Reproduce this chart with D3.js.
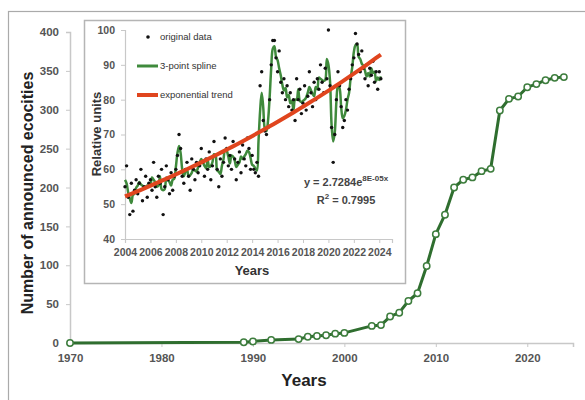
<!DOCTYPE html>
<html>
<head>
<meta charset="utf-8">
<script src="https://cdn.jsdelivr.net/npm/d3@7"></script>
<style>
body{margin:0;background:#fff;}
text{font-family:"Liberation Sans",Arial,sans-serif;}
.tick text{font-family:"Liberation Sans Narrow","Arial Narrow","Liberation Sans",sans-serif;font-weight:bold;fill:#555;}
</style>
</head>
<body>
<div id="chart"></div>
<script>
// main series: announced ecocities
var years=[1970,1989,1990,1992,1995,1996,1997,1998,1999,2000,2003,2004,2005,2006,2007,2008,2009,2010,2011,2012,2013,2014,2015,2016,2017,2018,2019,2020,2021,2022,2023,2024];
var counts=[0,1,2,4,5,8,9,10,12,13,22,23,34,39,54,64,99,140,165,200,210,213,221,224,299,314,317,329,333,338,341,342];
var mainXTicks=[1970,1980,1990,2000,2010,2020];
var mainYTicks=[0,50,100,150,200,250,300,350,400];

// inset: relative units, 8 readings per year from 2004
var insetStart=2004;
var perYear=8;
var relUnits=[
  55,61,52,47,56,48,54,57,
  53,56,60,51,55,58,52,56,
  57,54,62,55,52,58,56,60,
  47,55,61,57,53,59,54,58,
  60,64,70,66,58,56,60,62,
  58,54,63,60,57,62,59,61,
  66,62,58,63,60,65,57,61,
  68,64,60,55,63,58,62,69,
  66,61,64,60,68,63,57,62,
  65,59,67,63,61,69,66,60,
  64,60,59,62,58,84,88,74,
  71,70,72,80,90,97,97,92,
  88,94,85,82,86,80,84,78,
  82,77,80,74,86,80,83,76,
  79,84,77,81,88,82,78,85,
  80,86,83,90,85,82,89,86,
  100,84,72,62,70,80,88,84,
  78,72,74,80,77,83,86,90,
  92,99,96,93,88,94,89,86,
  90,84,89,87,91,85,88,83,
  88,86
];
var insetXTicks=[2004,2006,2008,2010,2012,2014,2016,2018,2020,2022,2024];
var insetYTicks=[40,50,60,70,80,90,100];

var W=585,H=400;
var svg=d3.select("#chart").append("svg").attr("width",W).attr("height",H);

svg.append("rect").attr("x",8.5).attr("y",11.5).attr("width",W).attr("height",H)
   .attr("fill","none").attr("stroke","#aaa").attr("stroke-width",1.2);

// ---- main chart
var x=d3.scaleLinear().domain([1970,2025]).range([70,573]);
var y=d3.scaleLinear().domain([0,400]).range([343,32]);

var gx=svg.append("g").attr("transform","translate(0,343)")
  .call(d3.axisBottom(x).tickValues(mainXTicks).tickFormat(d3.format("d")).tickSize(4).tickPadding(7));
var gy=svg.append("g").attr("transform","translate(70,0)")
  .call(d3.axisLeft(y).tickValues(mainYTicks).tickSize(4).tickPadding(7));
[gx,gy].forEach(function(g){
  g.select(".domain").attr("stroke","#c8c8c8").attr("stroke-width",1.5);
  g.selectAll(".tick line").attr("stroke","#c8c8c8");
  g.selectAll(".tick text").attr("font-size",11.5);
});

var mainData=years.map(function(d,i){return {year:d,v:counts[i]};});
var line=d3.line().x(function(d){return x(d.year);}).y(function(d){return y(d.v);});
svg.append("path").datum(mainData).attr("d",line)
   .attr("fill","none").attr("stroke","#2f6e2f").attr("stroke-width",3).attr("stroke-linejoin","round");
svg.selectAll("circle.m").data(mainData).enter().append("circle").attr("class","m")
   .attr("cx",function(d){return x(d.year);}).attr("cy",function(d){return y(d.v);})
   .attr("r",3.2).attr("fill","#fff").attr("stroke","#3d7d3d").attr("stroke-width",1.5);

svg.append("text").attr("x",304).attr("y",386).attr("text-anchor","middle")
   .attr("font-size",17).attr("font-weight","bold").attr("fill","#222").text("Years");
svg.append("text").attr("transform","translate(33,193) rotate(-90)").attr("text-anchor","middle")
   .attr("font-size",16).attr("font-weight","bold").attr("fill","#222").text("Number of announced ecocities");

// ---- inset
svg.append("rect").attr("x",84.5).attr("y",20.5).attr("width",321).attr("height",263)
   .attr("fill","#fff").attr("stroke","#b5b5b5").attr("stroke-width",1.5);

var ix=d3.scaleLinear().domain([2004,2025]).range([125,392]);
var iy=d3.scaleLinear().domain([40,100]).range([239,30]);

var igx=svg.append("g").attr("transform","translate(0,239)")
  .call(d3.axisBottom(ix).tickValues(insetXTicks).tickFormat(d3.format("d")).tickSize(4).tickPadding(6));
var igy=svg.append("g").attr("transform","translate(125,0)")
  .call(d3.axisLeft(iy).tickValues(insetYTicks).tickSize(4).tickPadding(6));
[igx,igy].forEach(function(g){
  g.select(".domain").attr("stroke","#c8c8c8").attr("stroke-width",1.2);
  g.selectAll(".tick line").attr("stroke","#c8c8c8");
  g.selectAll(".tick text").attr("font-size",10.5).attr("fill","#333");
});

var pts=relUnits.map(function(v,i){return {t:insetStart+i/perYear,v:v};});
// 3-point smoothing of the readings
var smooth=pts.map(function(d,i){
  var a=pts[Math.max(0,i-1)].v,b=d.v,c=pts[Math.min(pts.length-1,i+1)].v;
  return {t:d.t,v:(a+b+c)/3};
});
// exponential fit  v = a*exp(b*t)
var n=pts.length,sx=0,sy=0,sxx=0,sxy=0;
pts.forEach(function(d){var t=d.t-2004,l=Math.log(d.v);sx+=t;sy+=l;sxx+=t*t;sxy+=t*l;});
var fb=(n*sxy-sx*sy)/(n*sxx-sx*sx), fa=Math.exp((sy-fb*sx)/n);
var trend=d3.range(0,51).map(function(i){var t=pts[n-1].t*i/50+2004*(1-i/50);return {t:t,v:fa*Math.exp(fb*(t-2004))};});

var iline=d3.line().x(function(d){return ix(d.t);}).y(function(d){return iy(d.v);});
svg.append("path").datum(smooth).attr("d",iline.curve(d3.curveCatmullRom))
   .attr("fill","none").attr("stroke","#3f8a3c").attr("stroke-width",2.5);
svg.selectAll("circle.p").data(pts).enter().append("circle").attr("class","p")
   .attr("cx",function(d){return ix(d.t);}).attr("cy",function(d){return iy(d.v);})
   .attr("r",1.7).attr("fill","#111");
svg.append("path").datum(trend).attr("d",d3.line().x(function(d){return ix(d.t);}).y(function(d){return iy(d.v);}))
   .attr("fill","none").attr("stroke","#e0451e").attr("stroke-width",4);

// legend
svg.append("circle").attr("cx",148).attr("cy",37).attr("r",1.8).attr("fill","#111");
svg.append("line").attr("x1",137).attr("x2",158).attr("y1",66).attr("y2",66).attr("stroke","#3f8a3c").attr("stroke-width",3);
svg.append("line").attr("x1",137).attr("x2",158).attr("y1",95).attr("y2",95).attr("stroke","#e0451e").attr("stroke-width",4);
var legTxt=["original data","3-point spline","exponential trend"];
svg.selectAll("text.leg").data(legTxt).enter().append("text").attr("class","leg")
   .attr("x",160).attr("y",function(d,i){return 40+i*29;})
   .attr("font-size",9.5).attr("font-family","'Liberation Sans Narrow','Liberation Sans',sans-serif")
   .attr("fill","#333").text(function(d){return d;});

svg.append("text").attr("x",252).attr("y",275).attr("text-anchor","middle")
   .attr("font-size",13).attr("font-weight","bold").attr("fill","#333").text("Years");
svg.append("text").attr("transform","translate(101,134) rotate(-90)").attr("text-anchor","middle")
   .attr("font-size",13).attr("font-weight","bold").attr("fill","#333").text("Relative units");

var eq=svg.append("text").attr("x",346).attr("y",186).attr("text-anchor","middle")
   .attr("font-size",11).attr("font-weight","bold").attr("fill","#444");
eq.append("tspan").text("y = 2.7284e");
eq.append("tspan").attr("dy",-5).attr("font-size",8).text("8E-05x");
var r2=svg.append("text").attr("x",346).attr("y",204).attr("text-anchor","middle")
   .attr("font-size",11).attr("font-weight","bold").attr("fill","#444");
r2.append("tspan").text("R");
r2.append("tspan").attr("dy",-5).attr("font-size",8).text("2");
r2.append("tspan").attr("dy",5).text(" = 0.7995");
</script>
</body>
</html>
